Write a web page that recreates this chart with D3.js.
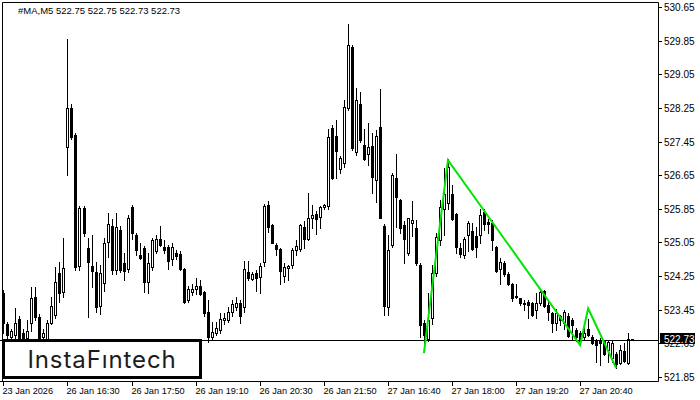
<!DOCTYPE html>
<html><head><meta charset="utf-8">
<script src="https://cdn.jsdelivr.net/npm/d3@7"></script>
<style>html,body{margin:0;padding:0;background:#fff;}svg{display:block;}</style>
</head><body>
<script>
const opens  = [523.85,523.10,522.80,522.85,523.23,522.90,522.78,523.13,523.75,523.28,522.80,522.75,523.13,523.33,524.32,523.87,527.32,528.25,527.60,524.49,525.87,524.92,524.49,524.35,523.54,524.09,525.06,525.44,524.40,525.35,524.56,524.42,525.89,525.23,524.75,524.92,524.11,524.47,524.85,525.13,524.94,524.94,524.66,524.80,524.78,524.42,523.68,523.87,523.94,524.01,523.87,523.40,522.80,522.90,522.97,523.20,523.21,523.40,523.52,523.61,523.52,524.35,524.18,524.32,524.23,524.59,525.94,525.47,524.99,524.89,524.25,524.44,524.51,524.87,524.89,525.42,525.13,525.63,525.73,525.65,525.89,525.92,527.77,527.58,526.80,526.94,528.25,529.70,527.20,528.34,527.37,527.15,527.35,526.53,527.80,525.44,523.52,524.99,526.58,526.06,525.47,524.80,525.51,525.39,524.51,523.13,522.75,523.25,524.33,525.11,525.85,525.99,526.20,525.73,524.92,524.75,525.23,525.32,525.20,525.23,525.77,525.54,525.51,524.94,524.42,524.56,524.30,524.06,523.75,523.73,523.61,523.63,523.61,523.44,523.61,523.90,523.56,523.37,523.13,523.30,523.13,523.30,523.21,522.97,522.90,522.80,522.99,522.80,522.73,522.73,522.70,522.49,522.30,522.40,522.18,522.47,522.18,522.75];
const highs  = [523.92,523.15,523.00,523.49,523.30,523.00,523.20,523.99,523.99,523.35,523.00,523.20,523.75,524.47,524.59,525.16,529.89,528.35,527.65,525.92,525.92,525.16,525.23,524.59,524.52,525.16,525.75,525.60,525.75,525.45,524.80,525.70,525.95,525.27,525.04,524.97,524.80,525.16,525.23,525.44,525.11,524.99,525.04,524.87,524.85,524.44,524.01,524.06,524.20,524.16,523.90,523.68,523.16,523.16,523.37,523.37,523.51,523.68,523.75,523.68,524.61,524.61,524.35,524.40,524.56,525.96,526.04,525.50,525.04,524.92,524.56,524.51,524.92,525.11,525.49,525.56,526.23,525.94,525.80,525.92,525.96,527.75,527.85,527.96,527.10,528.44,530.25,529.75,528.72,528.63,527.75,527.89,527.65,527.72,528.70,525.50,525.23,526.70,527.15,526.08,525.56,525.63,526.04,525.58,524.56,523.21,523.85,524.51,525.27,526.06,526.82,527.03,526.42,525.75,525.04,525.18,525.56,525.51,525.42,525.85,525.85,525.61,525.58,524.97,524.68,524.61,524.35,524.08,524.06,523.73,523.68,523.68,523.63,523.85,523.92,523.92,523.63,523.40,523.47,523.33,523.44,523.37,523.25,523.02,522.95,523.02,523.23,522.85,522.75,522.78,522.73,522.70,522.70,522.45,522.61,522.66,522.90,522.75];
const lows   = [522.90,522.70,522.70,522.75,522.60,522.60,522.70,522.95,523.20,522.60,522.70,522.70,523.10,523.25,523.63,523.75,526.65,527.50,524.40,524.40,525.20,523.28,523.99,523.40,523.35,523.90,524.70,524.30,524.30,524.35,524.16,524.35,525.13,524.75,524.65,523.87,523.85,524.40,524.80,524.97,524.80,524.42,524.52,524.66,524.40,523.61,523.63,523.80,523.82,523.80,523.30,522.68,522.75,522.85,522.90,523.10,523.16,523.30,523.45,523.13,523.40,524.16,524.15,523.90,523.85,524.50,525.30,525.04,524.75,524.06,524.11,524.16,524.45,524.75,524.85,524.92,525.11,525.40,525.25,525.40,525.85,525.85,526.55,526.58,526.70,526.85,528.20,527.25,527.13,527.45,527.00,526.89,526.23,526.02,525.63,523.33,523.33,524.95,525.42,525.27,524.56,524.75,525.20,524.51,522.80,522.65,522.70,523.10,524.25,525.00,525.23,525.85,525.58,524.80,524.70,524.68,524.85,524.87,524.70,525.04,525.35,525.27,524.87,524.35,524.06,524.25,524.04,523.66,523.73,523.56,523.45,523.25,523.30,523.25,523.56,523.51,523.21,522.92,522.97,523.09,523.00,522.80,522.75,522.70,522.60,522.75,522.82,522.63,522.21,522.14,522.37,522.21,522.21,522.06,522.16,522.21,522.16,522.73];
const closes = [523.13,522.85,522.95,523.13,522.78,522.78,522.95,523.73,523.28,522.75,522.90,523.13,523.54,524.11,523.85,524.44,528.25,527.56,524.47,525.87,525.27,524.59,524.37,523.52,524.33,525.04,525.49,524.40,525.42,524.40,524.37,525.63,525.28,524.87,524.68,524.11,524.56,525.11,525.13,524.99,524.87,524.61,524.94,524.73,524.42,523.63,523.94,523.94,524.01,523.82,523.37,522.80,522.92,523.02,523.23,523.25,523.40,523.59,523.61,523.30,524.42,524.20,524.30,524.20,524.49,525.92,525.42,525.04,524.89,524.37,524.47,524.49,524.87,524.97,525.47,525.13,525.63,525.70,525.61,525.89,525.94,527.56,526.58,527.23,527.06,528.27,529.75,527.30,528.44,527.49,527.04,527.32,526.61,527.58,525.63,523.54,524.87,526.65,526.13,525.39,525.13,525.63,525.58,524.56,523.09,522.85,523.21,524.33,525.18,525.89,526.20,526.84,525.61,524.94,524.78,525.13,525.51,524.89,524.94,525.70,525.49,525.49,525.11,524.37,524.59,524.30,524.06,523.73,523.78,523.61,523.59,523.56,523.33,523.61,523.87,523.54,523.40,523.13,523.37,523.21,523.40,522.83,523.09,522.80,522.70,522.90,522.85,522.66,522.61,522.66,522.40,522.68,522.66,522.16,522.49,522.23,522.75,522.73];

const priceTicks = [530.65,529.85,529.05,528.25,527.45,526.65,525.85,525.05,524.25,523.45,522.65,521.85];
const timeTickIdx = [0,16,32,48,64,80,96,112,128,144];
const timeTickLabels = ["23 Jan 2026","26 Jan 16:30","26 Jan 17:50","26 Jan 19:10","26 Jan 20:30","26 Jan 21:50","27 Jan 16:40","27 Jan 18:00","27 Jan 19:20","27 Jan 20:40"];
const patternIdx = [105,111,144,146,153];
const patternPrice = [522.42,527.01,522.61,523.48,522.06];
const lastPrice = 522.73;
const headerText = "#MA,M5  522.75 522.75 522.73 522.73";

const W=700,H=400;
const plotL=2, plotR=658, plotT=2, plotB=381;
const svg = d3.select("body").append("svg").attr("width",W).attr("height",H)
  .style("font-family","'Liberation Sans', Arial, sans-serif");

const x = d3.scaleLinear().domain([0,157]).range([3.4,632.2]);
const y = d3.scaleLinear().domain([521.85,530.65]).range([377,7]);

svg.append("defs").append("clipPath").attr("id","clip")
  .append("rect").attr("x",0).attr("y",plotT).attr("width",plotR).attr("height",plotB-plotT);

const g = svg.append("g").attr("clip-path","url(#clip)");

const data = opens.map((o,i)=>({i,o,h:highs[i],l:lows[i],c:closes[i]}));

const cg = g.selectAll("g.c").data(data).join("g").attr("class","c");
cg.append("line")
  .attr("x1",d=>Math.round(x(d.i))+0.5).attr("x2",d=>Math.round(x(d.i))+0.5)
  .attr("y1",d=>Math.round(y(d.h))).attr("y2",d=>Math.round(y(d.l))+1)
  .attr("stroke","#000").attr("stroke-width",1);
cg.each(function(d){
  const cx = Math.round(x(d.i));
  const top = Math.round(y(Math.max(d.o,d.c)));
  const bot = Math.round(y(Math.min(d.o,d.c)));
  const sel = d3.select(this);
  if (d.c < d.o) {
    sel.append("rect").attr("x",cx-1).attr("y",top).attr("width",3).attr("height",Math.max(1,bot-top+1)).attr("fill","#000");
  } else {
    sel.append("rect").attr("x",cx-0.5).attr("y",top+0.5).attr("width",2).attr("height",Math.max(0,bot-top))
      .attr("fill","#fff").attr("stroke","#000").attr("stroke-width",1);
  }
});

// current price line
g.append("line").attr("x1",0).attr("x2",plotR)
  .attr("y1",Math.round(y(lastPrice))+0.5).attr("y2",Math.round(y(lastPrice))+0.5)
  .attr("stroke","#000").attr("stroke-width",1);

// pattern line
const pl = d3.line().x((d,k)=>x(patternIdx[k])).y((d,k)=>y(patternPrice[k]));
g.append("path").attr("d",pl(patternIdx)).attr("fill","none")
  .attr("stroke","#00e600").attr("stroke-width",2).attr("stroke-linejoin","miter");

// frame
svg.append("path").attr("d",`M${plotL+0.5},${plotB}V${plotT+0.5}H${plotR+0.5}V${plotB+0.5}H0`)
  .attr("fill","none").attr("stroke","#000").attr("stroke-width",1);

// right axis
const ra = svg.append("g");
priceTicks.forEach(p=>{
  const yy = Math.round(y(p))+0.5;
  ra.append("line").attr("x1",plotR).attr("x2",plotR+4).attr("y1",yy).attr("y2",yy).attr("stroke","#000");
  ra.append("text").attr("x",664).attr("y",yy+3.5).attr("font-size","10px").attr("fill","#000").text(p.toFixed(2));
});
// last price box
const ly = Math.round(y(lastPrice));
ra.append("rect").attr("x",660).attr("y",ly-7).attr("width",35).attr("height",11).attr("fill","#000");
ra.append("text").attr("x",664).attr("y",ly+2.5).attr("font-size","10px").attr("fill","#fff").text(lastPrice.toFixed(2));

// bottom axis
const ba = svg.append("g");
timeTickIdx.forEach((ti,k)=>{
  const xx = Math.round(x(ti))+0.5;
  ba.append("line").attr("x1",xx).attr("x2",xx).attr("y1",plotB).attr("y2",plotB+5).attr("stroke","#000");
  ba.append("text").attr("x",xx-1).attr("y",394).attr("font-size","9.2px").attr("fill","#000").text(timeTickLabels[k]);
});

// header
svg.append("text").attr("x",18).attr("y",14).attr("font-size","9.5px").attr("fill","#000").text(headerText);

// logo
svg.append("rect").attr("x",3.5).attr("y",340.5).attr("width",197).attr("height",37)
  .attr("fill","#fff").attr("stroke","#000").attr("stroke-width",3);
svg.append("text").attr("x",102).attr("y",368).attr("text-anchor","middle")
  .attr("font-family","Inter, 'Noto Sans', sans-serif").attr("font-size","24px").attr("font-weight",400)
  .attr("letter-spacing","0.9px").attr("fill","#1c1c1c").text("InstaFıntech");
</script>
</body></html>
